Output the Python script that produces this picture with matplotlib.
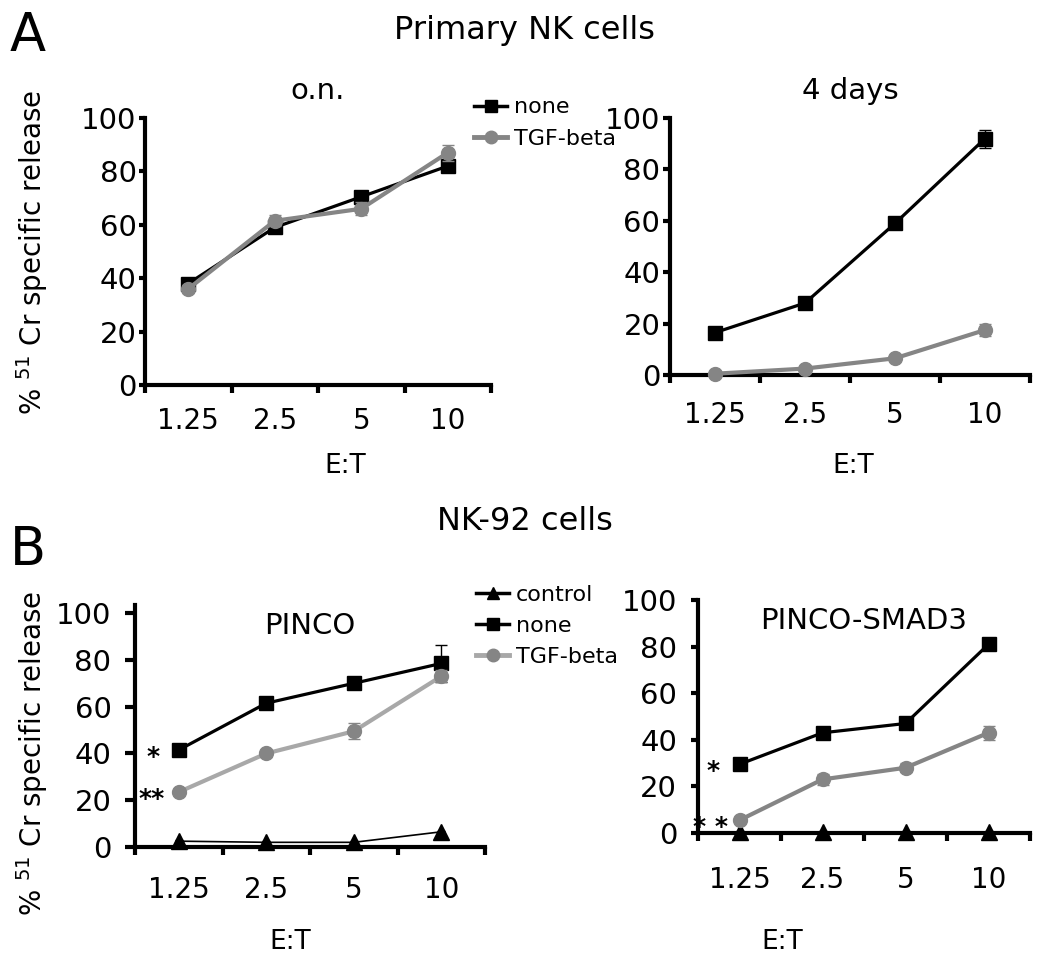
import matplotlib
matplotlib.use("Agg")
import matplotlib.pyplot as plt
from matplotlib.lines import Line2D
import numpy as np

plt.rcParams['font.family'] = ['DejaVu Sans']

categories = ["1.25", "2.5", "5", "10"]

# Panel A: Primary NK cells
on_none = [38, 59, 70.5, 82]
on_none_err = [1, 1.5, 1.5, 1.5]
on_tgf = [36, 61.5, 66, 87]
on_tgf_err = [1.5, 2, 2.5, 3]

d4_none = [16.5, 28, 59, 92]
d4_none_err = [1, 1, 1, 3.5]
d4_tgf = [0.5, 2.5, 6.5, 17.5]
d4_tgf_err = [0.5, 0.5, 1, 2.5]

# Panel B: NK-92 cells
p_control = [2.5, 2, 2, 6.5]
p_control_err = [0.5, 0.5, 0.5, 0.5]
p_none = [41.5, 61.5, 70, 78.5]
p_none_err = [1, 1, 1, 8]
p_tgf = [23.5, 40, 49.5, 73]
p_tgf_err = [1, 1.5, 3.5, 2.5]

s_control = [0.5, 0.5, 0.5, 0.5]
s_control_err = [0.3, 0.3, 0.3, 0.3]
s_none = [29.5, 43, 47, 81]
s_none_err = [2.5, 1, 1, 1.5]
s_tgf = [5.5, 23, 28, 43]
s_tgf_err = [1, 2.5, 2, 3]

W, H = 1050, 957
fig = plt.figure(figsize=(W / 100, H / 100), dpi=100)


def frac_axes(left, right, top, bottom):
    return fig.add_axes([left / W, 1 - bottom / H, (right - left) / W, (bottom - top) / H])


def style(ax, ylim, ypad, ytl, xpad):
    x = np.arange(len(categories))
    ax.set_xlim(-0.5, 3.5)
    ax.set_ylim(*ylim)
    for s in ['top', 'right']:
        ax.spines[s].set_visible(False)
    for s in ['left', 'bottom']:
        ax.spines[s].set_linewidth(3)
    ax.set_xticks(np.arange(-0.5, 4, 1))
    ax.set_xticklabels([])
    ax.tick_params(axis='x', which='major', direction='out', length=6, width=3)
    ax.set_xticks(x, minor=True)
    ax.set_xticklabels(categories, minor=True, fontsize=20)
    ax.tick_params(axis='x', which='minor', length=0, pad=xpad)
    ax.set_yticks([0, 20, 40, 60, 80, 100])
    ax.tick_params(axis='y', direction='out', length=ytl, width=3, labelsize=21, pad=ypad)
    ax.patch.set_alpha(0)


GRAY = '#858585'
LGRAY = '#a8a8a8'


def plot_none(ax, y, e):
    x = np.arange(len(categories))
    ax.errorbar(x, y, yerr=e, color='black', lw=2.3, marker='s', ms=10,
                capsize=4, elinewidth=1, capthick=1, zorder=5, clip_on=False)


def plot_tgf(ax, y, e, lc=GRAY, mc=GRAY):
    x = np.arange(len(categories))
    ax.errorbar(x, y, yerr=e, fmt='none', ecolor=GRAY, elinewidth=1, capsize=4, capthick=1,
                zorder=6, clip_on=False)
    ax.plot(x, y, color=lc, lw=3, marker='o', ms=10, mfc=mc, mec=mc, zorder=6, clip_on=False)


def plot_control(ax, y, e):
    x = np.arange(len(categories))
    ax.errorbar(x, y, yerr=e, color='black', lw=1.2, marker='^', ms=11,
                capsize=3, elinewidth=1, capthick=1, zorder=5, clip_on=False)


# A left
ax1 = frac_axes(145, 491, 118, 385)
style(ax1, (0, 100), 2, 4, 16)
plot_none(ax1, on_none, on_none_err)
plot_tgf(ax1, on_tgf, on_tgf_err)
ax1.set_title('o.n.', fontsize=21, pad=14)

# A right
ax2 = frac_axes(670, 1030, 118, 375)
style(ax2, (0, 100), 2, 5, 19)
plot_none(ax2, d4_none, d4_none_err)
plot_tgf(ax2, d4_tgf, d4_tgf_err)
ax2.set_title('4 days', fontsize=21, pad=14)

# B left
ax3 = frac_axes(135, 485, 605, 847)
style(ax3, (0, 103.5), 10, 7, 21)
plot_control(ax3, p_control, p_control_err)
plot_none(ax3, p_none, p_none_err)
plot_tgf(ax3, p_tgf, p_tgf_err, lc=LGRAY, mc=GRAY)
ax3.text(0.5, 0.97, 'PINCO', transform=ax3.transAxes, ha='center', va='top', fontsize=21)
ax3.annotate('*', xy=(0, p_none[0]), xytext=(-14, -5), textcoords='offset points',
             ha='right', va='center', fontsize=18, fontweight='bold')
ax3.annotate('**', xy=(0, p_tgf[0]), xytext=(-10, -5), textcoords='offset points',
             ha='right', va='center', fontsize=18, fontweight='bold')

# B right
ax4 = frac_axes(698, 1030, 600, 833)
style(ax4, (0, 100), 10, 5, 24)
plot_control(ax4, s_control, s_control_err)
plot_none(ax4, s_none, s_none_err)
plot_tgf(ax4, s_tgf, s_tgf_err, lc=GRAY, mc=GRAY)
ax4.text(0.5, 0.97, 'PINCO-SMAD3', transform=ax4.transAxes, ha='center', va='top', fontsize=21)
ax4.annotate('*', xy=(0, s_none[0]), xytext=(-14, -5), textcoords='offset points',
             ha='right', va='center', fontsize=18, fontweight='bold')
ax4.annotate('* *', xy=(0, s_tgf[0]), xytext=(-8, -5), textcoords='offset points',
             ha='right', va='center', fontsize=18, fontweight='bold')

# Legend proxies
lh_none = Line2D([], [], color='black', lw=2.5, marker='s', ms=8)
lh_tgf = Line2D([], [], color=GRAY, lw=3.5, marker='o', ms=9, mfc=GRAY, mec=GRAY)
lh_ctrl = Line2D([], [], color='black', lw=2.5, marker='^', ms=9)
lh_tgf_b = Line2D([], [], color=LGRAY, lw=3.5, marker='o', ms=9, mfc=GRAY, mec=GRAY)

leg_kw = dict(loc='center left', frameon=False, fontsize=16, handlelength=1.5,
              handletextpad=0.3, borderaxespad=0, borderpad=0, labelspacing=0.5)
fig.legend([lh_none, lh_tgf], ['none', 'TGF-beta'],
           bbox_to_anchor=(474 / W, 1 - 123 / H), **leg_kw)
fig.legend([lh_ctrl, lh_none, lh_tgf_b], ['control', 'none', 'TGF-beta'],
           bbox_to_anchor=(476 / W, 1 - 626 / H), **leg_kw)

# Figure texts
fig.text(10 / W, 1 - 36 / H, 'A', fontsize=38, va='center', ha='left')
fig.text(10 / W, 1 - 550 / H, 'B', fontsize=38, va='center', ha='left')
fig.text(525 / W, 1 - 30 / H, 'Primary NK cells', fontsize=23, ha='center', va='center')
fig.text(525 / W, 1 - 522 / H, 'NK-92 cells', fontsize=23, ha='center', va='center')

ylab = r'% $^{51}$ Cr specific release'
fig.text(32 / W, 1 - 252 / H, ylab, rotation=90, fontsize=20, ha='center', va='center')
fig.text(32 / W, 1 - 753 / H, ylab, rotation=90, fontsize=20, ha='center', va='center')

for xc, yc in [(345, 466), (853, 466), (290, 942), (782, 942)]:
    fig.text(xc / W, 1 - yc / H, 'E:T', fontsize=19, ha='center', va='center')

fig.savefig('out.png', dpi=100)
